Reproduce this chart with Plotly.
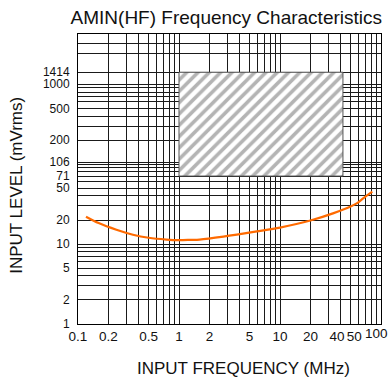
import math
import plotly.graph_objects as go

# ---- data ----
freq_mhz = [0.12, 0.16, 0.24, 0.35, 0.5, 0.75, 1.0, 1.3, 1.6, 2.75, 5.9, 10, 20, 34, 50, 58, 67, 82]
level_mv = [22.0, 18.3, 15.1, 13.1, 12.0, 11.4, 11.2, 11.3, 11.4, 12.4, 14.4, 16.1, 19.7, 24.4, 29.5, 32.5, 37.6, 45.4]

box_freq = [1, 42]          # hatched operating region (MHz)
box_level = [71, 1414]      # mVrms

x_tick_vals = [0.1, 0.2, 0.5, 1, 2, 5, 10, 20, 40, 50]
x_tick_text = ["0.1", "0.2", "0.5", "1", "2", "5", "10", "20",
               "40\u00a0\u00a0", "\u00a0\u00a050"]
x_end_val = 100
x_end_text = "100"
x_minor_vals = [0.3, 0.4, 0.6, 0.7, 0.8, 0.9, 3, 4, 6, 7, 8, 9, 30, 60, 70, 80, 90]

y_tick_vals = [1, 2, 5, 10, 20, 50, 71, 106, 200, 500, 1000, 1414]
y_tick_text = ["1", "2", "5", "10", "20", "50", "71", "106", "200", "500", "1000", "1414"]
y_minor_vals = [3, 4, 6, 7, 8, 9, 30, 40, 60, 70, 80, 90, 100, 300, 400, 600, 700, 800, 900, 2441, 3254]

FONT = "Liberation Sans, Arial, sans-serif"
GRID = "#1a1a1a"

fig = go.Figure()

fig.add_trace(go.Scatter(
    x=[box_freq[0], box_freq[1], box_freq[1], box_freq[0], box_freq[0]],
    y=[box_level[0], box_level[0], box_level[1], box_level[1], box_level[0]],
    mode="lines", fill="toself", fillcolor="white",
    fillpattern=dict(shape="/", bgcolor="white", fgcolor="#6a6a6a", size=8, solidity=0.45),
    line=dict(color="#555555", width=1), hoverinfo="skip", showlegend=False,
))

fig.add_trace(go.Scatter(
    x=freq_mhz, y=level_mv, mode="lines",
    line=dict(color="#FF6A00", width=2.2, shape="spline", smoothing=0.8),
    showlegend=False,
))

fig.update_xaxes(
    type="log", range=[-1, 2], automargin=False,
    tickvals=x_tick_vals, ticktext=x_tick_text, tickangle=0, ticklabeloverflow="allow",
    showgrid=True, gridcolor=GRID, gridwidth=1,
    minor=dict(tickvals=x_minor_vals, showgrid=True, gridcolor=GRID, gridwidth=1, ticks=""),
    showline=True, linecolor="black", linewidth=1, mirror=True,
    ticks="", zeroline=False,
    tickfont=dict(family=FONT, size=13.5, color="#111"),
)
fig.update_yaxes(
    type="log", range=[0, 3.6288], automargin=False,
    tickvals=y_tick_vals, ticktext=y_tick_text, ticklabeloverflow="allow",
    showgrid=True, gridcolor=GRID, gridwidth=1,
    minor=dict(tickvals=y_minor_vals, showgrid=True, gridcolor=GRID, gridwidth=1, ticks=""),
    showline=True, linecolor="black", linewidth=1, mirror=True,
    ticks="", zeroline=False, ticklabelstandoff=5,
    tickfont=dict(family=FONT, size=12, color="#111"),
)

fig.update_layout(
    width=390, height=383,
    margin=dict(l=78, r=9, t=34, b=59, autoexpand=False),
    paper_bgcolor="white", plot_bgcolor="white",
    font=dict(family=FONT, color="#111"),
    title=dict(text="AMIN(HF) Frequency Characteristics", xref="container", yref="container",
               x=226.3 / 390, y=1 - 17 / 383, xanchor="center", yanchor="middle",
               font=dict(family=FONT, size=19, color="#111")),
    annotations=[
        dict(text=x_end_text, xref="x", yref="paper", x=math.log10(x_end_val), y=0,
             xanchor="right", yanchor="top", xshift=8, yshift=-1, showarrow=False,
             borderpad=0, font=dict(family=FONT, size=13.5, color="#111")),
        dict(text="INPUT FREQUENCY (MHz)", xref="paper", yref="paper",
             x=0.5468, y=-0.1533, xanchor="center", yanchor="middle", showarrow=False,
             font=dict(family=FONT, size=17, color="#111")),
        dict(text="INPUT LEVEL (mVrms)", xref="paper", yref="paper", textangle=-90,
             x=-0.2009, y=0.477, xanchor="center", yanchor="middle", showarrow=False,
             font=dict(family=FONT, size=17, color="#111")),
    ],
)

fig.write_html("out.html", config={"displayModeBar": False},
               post_script="document.body.style.margin='0';document.body.style.overflow='hidden';")
